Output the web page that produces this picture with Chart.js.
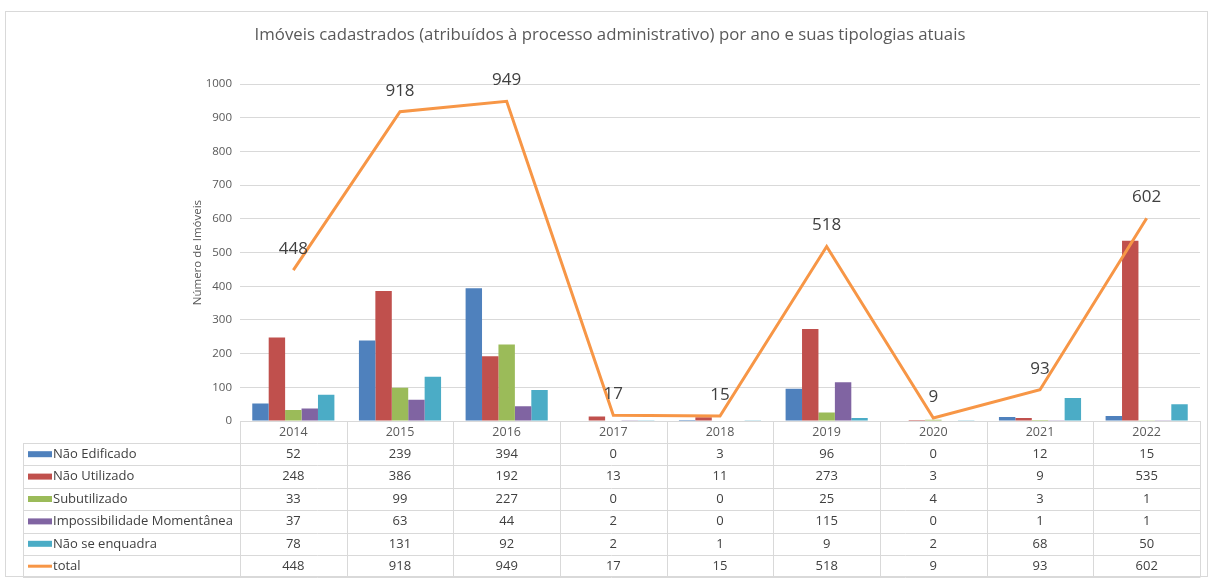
<!DOCTYPE html>
<html>
<head>
<meta charset="utf-8">
<script src="https://cdn.jsdelivr.net/npm/chart.js@4/dist/chart.umd.min.js"></script>
<style>
  html, body { margin: 0; padding: 0; background: #fff; }
  #wrap { width: 1212px; height: 578px; }
</style>
</head>
<body>
<div id="wrap"><canvas id="grafico"></canvas></div>
<script>
const anos = ['2014', '2015', '2016', '2017', '2018', '2019', '2020', '2021', '2022'];
const naoEdificado = [52, 239, 394, 0, 3, 96, 0, 12, 15];
const naoUtilizado = [248, 386, 192, 13, 11, 273, 3, 9, 535];
const subutilizado = [33, 99, 227, 0, 0, 25, 4, 3, 1];
const impossibilidade = [37, 63, 44, 2, 0, 115, 0, 1, 1];
const naoEnquadra = [78, 131, 92, 2, 1, 9, 2, 68, 50];
const total = [448, 918, 949, 17, 15, 518, 9, 93, 602];

const FONTE = "'Open Sans', 'Noto Sans', sans-serif";
const CINZA = '#d9d9d9';

function barra(label, data, cor) {
    return {
        type: 'bar',
        label: label,
        data: data,
        backgroundColor: cor,
        order: 1,
        categoryPercentage: 0.77,
        barPercentage: 1.0
    };
}

// rótulos de dados da linha total
const rotulosTotal = {
    id: 'rotulosTotal',
    afterDatasetsDraw(chart) {
        const ctx = chart.ctx;
        const meta = chart.getDatasetMeta(0);
        ctx.save();
        ctx.font = '17px ' + FONTE;
        ctx.fillStyle = '#404040';
        ctx.textAlign = 'center';
        ctx.textBaseline = 'middle';
        meta.data.forEach((pt, i) => {
            ctx.fillText(String(total[i]), pt.x, pt.y - 21);
        });
        ctx.restore();
    }
};

// tabela de dados abaixo do gráfico (como no Excel)
const tabelaDados = {
    id: 'tabelaDados',
    afterDraw(chart) {
        const ctx = chart.ctx;
        const x = chart.scales.x;
        const area = chart.chartArea;
        const linhas = chart.data.datasets.slice(1).concat([chart.data.datasets[0]]);
        const topo = area.bottom + 22;
        const altura = 22.4;
        const esquerda = 23;
        const largura = (area.right - area.left) / anos.length;

        ctx.save();
        ctx.strokeStyle = CINZA;
        ctx.lineWidth = 1;

        // moldura externa
        ctx.strokeRect(5.5, 11.5, 1202, 565);

        // linhas horizontais
        ctx.beginPath();
        ctx.moveTo(area.left, Math.round(area.bottom) + 0.5);
        ctx.lineTo(area.right, Math.round(area.bottom) + 0.5);
        for (let r = 0; r <= linhas.length; r++) {
            const y = Math.round(topo + r * altura) + 0.5;
            ctx.moveTo(esquerda, y);
            ctx.lineTo(area.right, y);
        }
        // linhas verticais
        const fundo = topo + linhas.length * altura;
        ctx.moveTo(esquerda + 0.5, topo);
        ctx.lineTo(esquerda + 0.5, fundo);
        for (let c = 0; c <= anos.length; c++) {
            const xc = Math.round(x.getPixelForValue(c) - largura / 2) + 0.5;
            ctx.moveTo(xc, area.bottom);
            ctx.lineTo(xc, fundo);
        }
        ctx.stroke();

        ctx.textBaseline = 'middle';
        linhas.forEach((ds, r) => {
            const yc = topo + r * altura + altura / 2;
            // chave da legenda
            ctx.fillStyle = ds.type === 'line' ? ds.borderColor : ds.backgroundColor;
            if (ds.type === 'line') {
                ctx.fillRect(28, yc - 1.5, 24, 3);
            } else {
                ctx.fillRect(28, yc - 3, 24, 6);
            }
            ctx.fillStyle = '#404040';
            ctx.font = '13px ' + FONTE;
            ctx.textAlign = 'left';
            ctx.fillText(ds.label, 53, yc);
            ctx.textAlign = 'center';
            ds.data.forEach((v, i) => {
                ctx.fillText(String(v), x.getPixelForValue(i), yc);
            });
        });
        ctx.restore();
    }
};

new Chart(
    document.getElementById('grafico'),
    {
        data: {
            labels: anos,
            datasets: [
                {
                    type: 'line',
                    label: 'total',
                    data: total,
                    borderColor: '#F79646',
                    backgroundColor: '#F79646',
                    borderWidth: 3,
                    pointRadius: 0,
                    tension: 0,
                    fill: false,
                    order: 0
                },
                barra('Não Edificado', naoEdificado, '#4F81BD'),
                barra('Não Utilizado', naoUtilizado, '#C0504D'),
                barra('Subutilizado', subutilizado, '#9BBB59'),
                barra('Impossibilidade Momentânea', impossibilidade, '#8064A2'),
                barra('Não se enquadra', naoEnquadra, '#4BACC6')
            ]
        },
        options: {
            responsive: true,
            maintainAspectRatio: false,
            animation: false,
            layout: {
                padding: { left: 20, right: 12, bottom: 134 }
            },
            plugins: {
                legend: { display: false },
                tooltip: { enabled: false },
                title: {
                    display: true,
                    text: 'Imóveis cadastrados (atribuídos à processo administrativo) por ano e suas tipologias atuais',
                    color: '#595959',
                    font: { family: FONTE, size: 16.8, weight: 'normal' },
                    padding: { top: 25, bottom: 39 }
                }
            },
            scales: {
                x: {
                    grid: { display: false, drawTicks: false },
                    border: { display: false },
                    ticks: {
                        color: '#595959',
                        font: { family: FONTE, size: 12.5 },
                        padding: 4,
                        maxRotation: 0
                    }
                },
                y: {
                    min: 0,
                    max: 1000,
                    afterFit(scale) { scale.width = 220; },
                    grid: { color: CINZA, drawTicks: false },
                    border: { display: false },
                    ticks: {
                        stepSize: 100,
                        color: '#595959',
                        font: { family: FONTE, size: 11.5 },
                        padding: 8,
                        callback: (v) => String(v)
                    },
                    title: {
                        display: true,
                        text: 'Número de Imóveis',
                        color: '#595959',
                        font: { family: FONTE, size: 11.5 },
                        padding: { top: 171, bottom: 0 }
                    }
                }
            }
        },
        plugins: [rotulosTotal, tabelaDados]
    }
);
</script>
</body>
</html>
